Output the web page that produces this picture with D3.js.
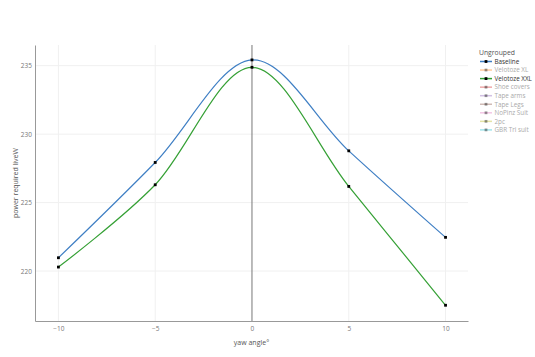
<!DOCTYPE html>
<html><head><meta charset="utf-8">
<script src="https://cdn.jsdelivr.net/npm/d3@7"></script>
<style>body{margin:0;background:#fff;} text{font-family:"Open Sans",Verdana,sans-serif;}</style>
</head><body><svg id="c" width="535" height="357"></svg>
<script>
const yawAngles = [-10, -5, 0, 5, 10];
const baseline = [220.97, 227.93, 235.42, 228.78, 222.46];
const velotozeXXL = [220.29, 226.3, 234.88, 226.18, 217.5];
const xTicks = [-10, -5, 0, 5, 10];
const yTicks = [220, 225, 230, 235];
const legendNames = ["Baseline","Velotoze XL","Velotoze XXL","Shoe covers","Tape arms","Tape Legs","NoPinz Suit","2pc","GBR Tri suit"];
const legendColors = ["#3f7fc4","#ff7f0e","#35a035","#d62728","#9467bd","#8c564b","#e377c2","#bcbd22","#17becf"];
const legendVisible = [true,false,true,false,false,false,false,false,false];

const svg = d3.select("#c");
const L=35, R=468, T=45, B=321;
const x = d3.scaleLinear().domain([-11.21, 11.16]).range([L, R]);
const y = d3.scaleLinear().domain([216.35, 236.51]).range([B, T]);

svg.append("g").selectAll("line").data(xTicks.filter(d=>d!==0)).join("line")
  .attr("x1",d=>x(d)).attr("x2",d=>x(d)).attr("y1",T).attr("y2",B)
  .attr("stroke","#f0f0f0").attr("stroke-width",1);
svg.append("g").selectAll("line").data(yTicks).join("line")
  .attr("x1",L).attr("x2",R).attr("y1",d=>y(d)).attr("y2",d=>y(d))
  .attr("stroke","#f0f0f0").attr("stroke-width",1);
svg.append("line").attr("x1",x(0)).attr("x2",x(0)).attr("y1",T).attr("y2",B)
  .attr("stroke","#777").attr("stroke-width",1);

const xAxis = d3.axisBottom(x).tickValues(xTicks).tickSize(0).tickPadding(5)
  .tickFormat(d=>d<0 ? "\u2212"+Math.abs(d) : d);
const gx = svg.append("g").attr("transform",`translate(0,${B})`).call(xAxis);
gx.select(".domain").attr("stroke","#999");
gx.selectAll("text").attr("fill","#777").attr("font-size","6.5px");
const yAxis = d3.axisLeft(y).tickValues(yTicks).tickSize(0).tickPadding(3);
const gy = svg.append("g").attr("transform",`translate(${L},0)`).call(yAxis);
gy.select(".domain").attr("stroke","#999");
gy.selectAll("text").attr("fill","#777").attr("font-size","6.5px");

svg.append("text").attr("x",(L+R)/2).attr("y",345).attr("text-anchor","middle")
  .attr("font-size","7px").attr("fill","#555").text("yaw angle°");
svg.append("text").attr("transform",`translate(18,${(T+B)/2}) rotate(-90)`).attr("text-anchor","middle")
  .attr("font-size","7px").attr("fill","#555").text("power required liveW");

const series = [{v:baseline,c:legendColors[0]},{v:velotozeXXL,c:legendColors[2]}];
const line = d3.line().x((d,i)=>x(yawAngles[i])).y(d=>y(d)).curve(d3.curveCardinal.tension(0));
series.forEach(s=>{
  svg.append("path").attr("d",line(s.v)).attr("fill","none").attr("stroke",s.c).attr("stroke-width",1.2);
  svg.append("g").selectAll("rect").data(s.v).join("rect")
    .attr("x",(d,i)=>x(yawAngles[i])-1.4).attr("y",d=>y(d)-1.4).attr("width",2.8).attr("height",2.8).attr("fill","#000");
});

const lg = svg.append("g");
lg.append("text").attr("x",479).attr("y",55).attr("font-size","6.8px").attr("fill","#555").text("Ungrouped");
legendNames.forEach((n,i)=>{
  const yy = 61.5 + i*8.55;
  const op = legendVisible[i]?1:0.4;
  lg.append("line").attr("x1",480).attr("x2",492).attr("y1",yy).attr("y2",yy)
    .attr("stroke",legendColors[i]).attr("stroke-width",1.5).attr("opacity",op);
  lg.append("rect").attr("x",484.6).attr("y",yy-1.4).attr("width",2.8).attr("height",2.8).attr("fill","#000").attr("opacity",op);
  lg.append("text").attr("x",494.5).attr("y",yy+2.3).attr("font-size","6.3px")
    .attr("fill",legendVisible[i]?"#333":"#aaa").text(n);
});
</script></body></html>
